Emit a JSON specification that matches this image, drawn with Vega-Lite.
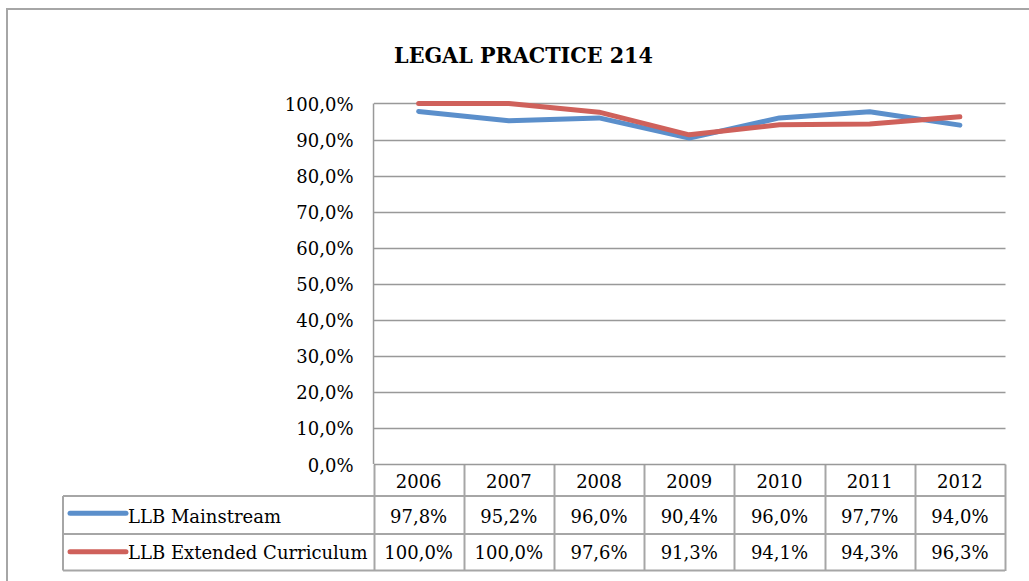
{
  "$schema": "https://vega.github.io/schema/vega-lite/v6.json",
  "width": 1033,
  "height": 581,
  "autosize": {"type": "none"},
  "padding": {"left": 7, "top": 9, "right": 0, "bottom": 0},
  "background": "white",
  "config": {
    "locale": {"number": {"decimal": ",", "thousands": ".", "grouping": [3], "currency": ["", ""]}},
    "view": {"stroke": "#A6A6A6", "strokeWidth": 2},
    "font": "DejaVu Serif",
    "text": {"font": "DejaVu Serif", "fontSize": 18, "color": "#000"}
  },
  "title": {
    "text": "LEGAL PRACTICE 214",
    "font": "DejaVu Serif Condensed, DejaVu Serif",
    "fontWeight": "bold",
    "fontSize": 23,
    "color": "#000",
    "anchor": "middle",
    "frame": "group",
    "orient": "top",
    "baseline": "alphabetic",
    "offset": -77
  },
  "data": {
    "values": [
      {"series": "LLB Mainstream", "year": 2006, "value": 0.978},
      {"series": "LLB Mainstream", "year": 2007, "value": 0.952},
      {"series": "LLB Mainstream", "year": 2008, "value": 0.960},
      {"series": "LLB Mainstream", "year": 2009, "value": 0.904},
      {"series": "LLB Mainstream", "year": 2010, "value": 0.960},
      {"series": "LLB Mainstream", "year": 2011, "value": 0.977},
      {"series": "LLB Mainstream", "year": 2012, "value": 0.940},
      {"series": "LLB Extended Curriculum", "year": 2006, "value": 1.000},
      {"series": "LLB Extended Curriculum", "year": 2007, "value": 1.000},
      {"series": "LLB Extended Curriculum", "year": 2008, "value": 0.976},
      {"series": "LLB Extended Curriculum", "year": 2009, "value": 0.913},
      {"series": "LLB Extended Curriculum", "year": 2010, "value": 0.941},
      {"series": "LLB Extended Curriculum", "year": 2011, "value": 0.943},
      {"series": "LLB Extended Curriculum", "year": 2012, "value": 0.963}
    ]
  },
  "layer": [
    {
      "transform": [{"filter": "datum.series === 'LLB Mainstream'"}],
      "mark": {"type": "line", "strokeWidth": 5, "strokeCap": "round", "strokeJoin": "round"},
      "encoding": {
        "x": {
          "field": "year", "type": "quantitative",
          "scale": {"domain": [2001.437, 2012.888], "nice": false, "zero": false},
          "axis": {
            "orient": "bottom", "offset": -19.5,
            "values": [2005.5, 2006.5, 2007.5, 2008.5, 2009.5, 2010.5, 2011.5, 2012.5],
            "tickSize": -106.5, "tickColor": "#A6A6A6", "tickWidth": 2,
            "labels": false, "domain": false, "grid": false, "title": null
          }
        },
        "y": {
          "field": "value", "type": "quantitative",
          "scale": {"domain": [-0.3495, 1.2621], "nice": false, "zero": false},
          "axis": {
            "orient": "left", "offset": -366.5,
            "values": [0, 0.1, 0.2, 0.3, 0.4, 0.5, 0.6, 0.7, 0.8, 0.9, 1.0],
            "format": ".1%",
            "tickSize": -631.5, "tickColor": "#999999", "tickWidth": 1.5,
            "labelPadding": 652, "labelOffset": 2, "labelFont": "DejaVu Serif", "labelFontSize": 18,
            "labelColor": "#000", "labelOverlap": false,
            "domain": false, "grid": false, "title": null
          }
        },
        "color": {
          "field": "series", "type": "nominal",
          "scale": {"domain": ["LLB Mainstream", "LLB Extended Curriculum"], "range": ["#5B8FCB", "#CF615B"]},
          "legend": null
        }
      }
    },
    {
      "transform": [{"filter": "datum.series === 'LLB Extended Curriculum'"}],
      "mark": {"type": "line", "strokeWidth": 5, "strokeCap": "round", "strokeJoin": "round"},
      "encoding": {
        "x": {"field": "year", "type": "quantitative"},
        "y": {"field": "value", "type": "quantitative"},
        "color": {"field": "series", "type": "nominal"}
      }
    },
    {
      "data": {"values": [{}]},
      "mark": {"type": "rule", "color": "#999999", "strokeWidth": 1.5},
      "encoding": {
        "x": {"datum": 2005.5, "type": "quantitative"},
        "y": {"datum": 0, "type": "quantitative"},
        "y2": {"datum": 1}
      }
    },
    {
      "data": {"values": [{}]},
      "mark": {"type": "rule", "color": "#A6A6A6", "strokeWidth": 2},
      "encoding": {
        "x": {"datum": 2002.058, "type": "quantitative"},
        "x2": {"datum": 2012.5},
        "y": {"datum": -0.0888, "type": "quantitative"}
      }
    },
    {
      "data": {"values": [{}]},
      "mark": {"type": "rule", "color": "#A6A6A6", "strokeWidth": 2},
      "encoding": {
        "x": {"datum": 2002.058, "type": "quantitative"},
        "x2": {"datum": 2012.5},
        "y": {"datum": -0.1942, "type": "quantitative"}
      }
    },
    {
      "data": {"values": [{}]},
      "mark": {"type": "rule", "color": "#A6A6A6", "strokeWidth": 2},
      "encoding": {
        "x": {"datum": 2002.058, "type": "quantitative"},
        "x2": {"datum": 2012.5},
        "y": {"datum": -0.2954, "type": "quantitative"}
      }
    },
    {
      "data": {"values": [{}]},
      "mark": {"type": "rule", "color": "#A6A6A6", "strokeWidth": 2},
      "encoding": {
        "x": {"datum": 2002.058, "type": "quantitative"},
        "y": {"datum": -0.0888, "type": "quantitative"},
        "y2": {"datum": -0.2954}
      }
    },
    {
      "transform": [{"filter": "datum.series === 'LLB Mainstream'"}],
      "mark": {"type": "text", "align": "center", "baseline": "middle"},
      "encoding": {
        "x": {"field": "year", "type": "quantitative"},
        "y": {"datum": -0.0514, "type": "quantitative"},
        "text": {"field": "year", "type": "ordinal"}
      }
    },
    {
      "transform": [{"filter": "datum.series === 'LLB Mainstream'"}],
      "mark": {"type": "text", "align": "center", "baseline": "middle"},
      "encoding": {
        "x": {"field": "year", "type": "quantitative"},
        "y": {"datum": -0.1484, "type": "quantitative"},
        "text": {"field": "value", "type": "quantitative", "format": ".1%"}
      }
    },
    {
      "transform": [{"filter": "datum.series === 'LLB Extended Curriculum'"}],
      "mark": {"type": "text", "align": "center", "baseline": "middle"},
      "encoding": {
        "x": {"field": "year", "type": "quantitative"},
        "y": {"datum": -0.2483, "type": "quantitative"},
        "text": {"field": "value", "type": "quantitative", "format": ".1%"}
      }
    },
    {
      "transform": [{"filter": "datum.series === 'LLB Mainstream' && datum.year === 2006"}],
      "mark": {"type": "text", "align": "left", "baseline": "middle"},
      "encoding": {
        "x": {"datum": 2002.779, "type": "quantitative"},
        "y": {"datum": -0.1484, "type": "quantitative"},
        "text": {"field": "series", "type": "nominal"}
      }
    },
    {
      "transform": [{"filter": "datum.series === 'LLB Extended Curriculum' && datum.year === 2006"}],
      "mark": {"type": "text", "align": "left", "baseline": "middle"},
      "encoding": {
        "x": {"datum": 2002.779, "type": "quantitative"},
        "y": {"datum": -0.2483, "type": "quantitative"},
        "text": {"field": "series", "type": "nominal"}
      }
    },
    {
      "transform": [{"filter": "datum.series === 'LLB Mainstream' && datum.year === 2006"}],
      "mark": {"type": "rule", "strokeWidth": 5, "strokeCap": "round"},
      "encoding": {
        "x": {"datum": 2002.136, "type": "quantitative"},
        "x2": {"datum": 2002.756},
        "y": {"datum": -0.1368, "type": "quantitative"},
        "color": {"field": "series", "type": "nominal"}
      }
    },
    {
      "transform": [{"filter": "datum.series === 'LLB Extended Curriculum' && datum.year === 2006"}],
      "mark": {"type": "rule", "strokeWidth": 5, "strokeCap": "round"},
      "encoding": {
        "x": {"datum": 2002.136, "type": "quantitative"},
        "x2": {"datum": 2002.756},
        "y": {"datum": -0.2433, "type": "quantitative"},
        "color": {"field": "series", "type": "nominal"}
      }
    }
  ]
}
